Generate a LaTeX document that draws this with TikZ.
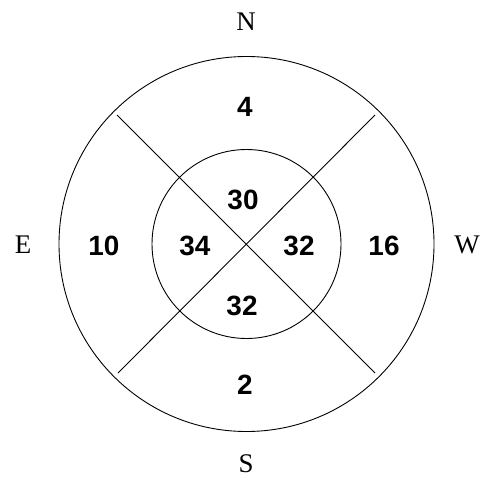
\documentclass[tikz,border=0pt]{standalone}
\usepackage{fontspec}
\setmainfont{Liberation Serif}
\newfontfamily\numfont{Liberation Sans}
\usepackage{tikz}

\tikzset{
    dirlabel/.style={font=\fontsize{27}{27}\selectfont},
    count/.style={font=\numfont\bfseries\fontsize{28}{28}\selectfont}
}

\begin{document}
\begin{tikzpicture}[x=1bp,y=-1bp,line width=0.9pt]
    \useasboundingbox (0,0) rectangle (488,481);
    \coordinate (c) at (246.5,244);
    \draw (c) circle (187.5bp);
    \draw (c) circle (94.5bp);
    \coordinate (nw) at (117,115);
    \coordinate (se) at (375,373);
    \coordinate (ne) at (375,115);
    \coordinate (sw) at (118,373);
    \draw (nw) -- (se);
    \draw (ne) -- (sw);
    \node[dirlabel] (n) at (246,22) {N};
    \node[dirlabel] (s) at (246,464) {S};
    \node[dirlabel] (e) at (23,245) {E};
    \node[dirlabel] (w) at (467,245) {W};
    \node[count] (outn) at (245,107) {4};
    \node[count] (outs) at (245,385) {2};
    \node[count] (oute) at (104,246) {10};
    \node[count] (outw) at (384,246) {16};
    \node[count] (inn) at (243,200) {30};
    \node[count] (ine) at (195,246) {34};
    \node[count] (inw) at (299,246) {32};
    \node[count] (ins) at (242,306) {32};
\end{tikzpicture}
\end{document}
